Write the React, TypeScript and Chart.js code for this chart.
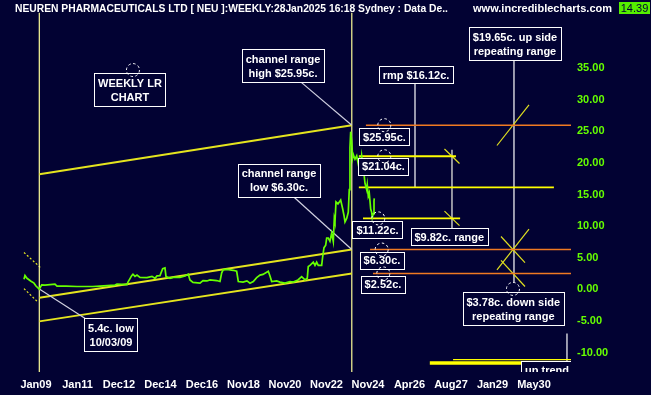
import React, { useEffect, useRef } from "react";
import { Chart, registerables } from "chart.js";

Chart.register(...registerables);

// ---------- data ----------
const xTickLabels = ["Jan09", "Jan11", "Dec12", "Dec14", "Dec16", "Nov18", "Nov20", "Nov22", "Nov24", "Apr26", "Aug27", "Jan29", "May30"];
const yTickValues = [-10, -5, 0, 5, 10, 15, 20, 25, 30, 35];
const X_MIN = -0.867;
const X_MAX = 12.892;
const Y_MIN = -13.05;
const Y_MAX = 43.74;

// weekly close, x in axis-label units (0 = Jan09 label, 1 = Jan11 label, ...)
const priceX = [
  -0.289, -0.265, -0.217, -0.12, -0.048, 0.0, 0.08, 0.137, 0.217, 0.458, 0.506, 0.723, 0.988, 1.373, 1.542, 1.904,
  1.952, 2.193, 2.217, 2.306, 2.337, 2.386, 2.434, 2.506, 2.675, 2.795, 2.867, 2.916, 2.988, 3.053, 3.108, 3.133,
  3.229, 3.301, 3.47, 3.59, 3.67, 3.711, 3.783, 3.952, 4.024, 4.12, 4.193, 4.354, 4.434, 4.475, 4.513, 4.602,
  4.754, 4.836, 4.875, 4.988, 5.084, 5.157, 5.236, 5.318, 5.398, 5.47, 5.598, 5.639, 5.68, 5.8, 5.88, 6.0,
  6.12, 6.2, 6.313, 6.402, 6.482, 6.537, 6.561, 6.602, 6.682, 6.723, 6.763, 6.802, 6.884, 6.908, 6.94, 6.981,
  7.005, 7.043, 7.084, 7.125, 7.164, 7.188, 7.205, 7.229, 7.277, 7.342, 7.39, 7.422, 7.446, 7.487, 7.525, 7.549,
  7.566, 7.583, 7.607, 7.631, 7.646, 7.687, 7.728, 7.766, 7.79, 7.824, 7.848, 7.872, 7.904, 7.928, 7.969, 7.983,
  8.007, 8.031, 8.065, 8.089, 8.104, 8.128, 8.145, 8.152,
];
const priceY = [
  1.6, 2.21, 1.76, 1.3, 0.99, 0.53, 0.054, 0.73, 0.69, 0.84, 0.53, 0.53, 0.46, 0.46, 0.53, 0.69,
  0.84, 0.76, 1.15, 2.17, 2.41, 2.06, 2.26, 1.91, 1.86, 2.06, 1.76, 2.14, 2.17, 3.28, 3.39, 2.02,
  1.76, 1.91, 1.91, 2.11, 2.41, 1.5, 1.1, 0.99, 1.4, 1.34, 1.5, 1.4, 1.25, 2.63, 3.13, 3.18,
  3.02, 2.87, 1.25, 1.15, 1.34, 0.99, 1.25, 1.86, 2.26, 2.37, 2.87, 2.11, 1.25, 1.34, 1.15, 0.99,
  1.25, 1.15, 1.5, 2.02, 1.5, 1.76, 3.63, 3.79, 4.31, 3.79, 4.31, 3.79, 3.79, 5.16, 6.6, 6.99,
  8.12, 8.12, 7.6, 8.89, 7.56, 11.18, 10.66, 13.82, 13.51, 14.12, 12.75, 11.68, 10.66, 11.22, 12.18, 15.76,
  22.37, 24.92, 23.44, 20.84, 21.34, 20.58, 21.1, 19.82, 20.58, 19.57, 21.1, 19.82, 18.29, 16.76, 15.76, 16.52,
  14.73, 15.24, 12.7, 12.18, 11.37, 11.94, 13.97, 14.39,
];

// linear-regression channel
const lrX = [0.08, 7.61];
const channelHighY = [18.2, 25.95];
const channelLowY = [-1.3, 6.3];
const channelBaseY = [-5.05, 2.52];

// support / resistance levels (run to the right edge)
const supportLevels = [25.95, 6.3, 2.52];
const supportStartX = [7.95, 8.05, 8.12];

// recent range levels
const rangeLevels = [21.04, 16.12, 11.22];
const rangeStartX = [7.78, 7.78, 7.88];
const rangeEndX = [10.12, 12.48, 10.22];

// trend lines at the bottom right
const trendLevels = [-11.11, -11.63];
const trendStartX = [10.05, 9.49];

// small range tick marks [x1, y1, x2, y2]
const rangeTicks = [
  [11.108, 22.74, 11.88, 29.16],
  [11.108, 3.09, 11.88, 9.51],
  [11.205, 8.36, 11.783, 4.24],
  [11.205, 4.58, 11.783, 0.46],
  [9.843, 22.19, 10.205, 19.89],
  [9.843, 12.37, 10.205, 10.07],
];
const startTicks = [
  [-0.289, 5.83, 0.137, 3.28],
  [-0.289, 0.12, 0.055, -2.06],
];
// leader lines [x1, y1, x2, y2]
const leaderLines = [
  [6.386, 32.75, 7.61, 25.95],
  [6.193, 14.73, 7.61, 6.3],
  [0.08, 0.054, 1.205, -4.66],
];
const whiteVerticals = [
  [9.133, 32.52, 9.133, 16.12],
  [11.518, 36.26, 11.518, 1.15],
  [12.795, -6.95, 12.795, -11.53],
];
const rangeBar = [10.024, 22.06, 10.024, 9.65];

// text boxes
const labelTexts = [
  ["WEEKLY LR", "CHART"],
  ["channel range", "high $25.95c."],
  ["rmp $16.12c."],
  ["$19.65c. up side", "repeating range"],
  ["channel range", "low $6.30c."],
  ["$25.95c."],
  ["$21.04c."],
  ["$11.22c."],
  ["$6.30c."],
  ["$2.52c."],
  ["$9.82c. range"],
  ["5.4c. low", "10/03/09"],
  ["$3.78c. down side", "repeating range"],
  ["up trend"],
];
const labelX = [2.265, 5.952, 9.157, 11.542, 5.855, 8.398, 8.373, 8.229, 8.337, 8.361, 9.959, 1.807, 11.501, 12.313];
const labelY = [31.53, 35.34, 33.89, 38.78, 17.25, 24.12, 19.47, 9.39, 4.58, 0.84, 8.32, -7.18, -3.05, -12.71];

// dashed marker circles
const circleX = [2.337, 8.393, 8.393, 8.248, 8.33, 8.369, 11.494];
const circleY = [34.66, 25.95, 21.04, 11.22, 6.3, 2.52, 0.08];

const titleText = "NEUREN PHARMACEUTICALS LTD [ NEU ]:WEEKLY:28Jan2025 16:18 Sydney : Data De..";
const siteText = "www.incrediblecharts.com";
const lastPriceText = "14.39";

// ---------- styles ----------
const BG = "#020233";
const FONT = '"Liberation Sans", Arial, sans-serif';

function seg(points: { x: number; y: number }[], color: string, width: number, order: number, dash: number[] = []) {
  return {
    type: "line" as const,
    data: points,
    borderColor: color,
    borderWidth: width,
    borderDash: dash,
    pointRadius: 0,
    pointHoverRadius: 0,
    fill: false,
    tension: 0,
    order,
  };
}

const pt = (x: number, y: number) => ({ x, y });

function buildDatasets() {
  const ds: any[] = [];
  // price
  ds.push(seg(priceX.map((x, i) => pt(x, priceY[i])), "#66ff00", 1.7, 0));
  // channel
  [channelHighY, channelLowY, channelBaseY].forEach((ys) =>
    ds.push(seg([pt(lrX[0], ys[0]), pt(lrX[1], ys[1])], "#e4e41e", 2, 2))
  );
  // LR start / end verticals
  lrX.forEach((x) => ds.push(seg([pt(x, Y_MAX), pt(x, Y_MIN)], "#ffff99", 1.2, 3)));
  // supports
  supportLevels.forEach((lv, i) => ds.push(seg([pt(supportStartX[i], lv), pt(X_MAX, lv)], "#f07a22", 1.5, 4)));
  // range levels
  rangeLevels.forEach((lv, i) => ds.push(seg([pt(rangeStartX[i], lv), pt(rangeEndX[i], lv)], "#ffff00", 1.8, 4)));
  // trends bottom
  ds.push(seg([pt(trendStartX[0], trendLevels[0]), pt(X_MAX, trendLevels[0])], "#ffff00", 1.2, 4));
  ds.push(seg([pt(trendStartX[1], trendLevels[1]), pt(X_MAX, trendLevels[1])], "#ffff00", 3.5, 4));
  // tick marks
  rangeTicks.forEach((t) => ds.push(seg([pt(t[0], t[1]), pt(t[2], t[3])], "#e0e020", 1.2, 5)));
  startTicks.forEach((t) => ds.push(seg([pt(t[0], t[1]), pt(t[2], t[3])], "#e8e820", 1.2, 5, [2, 2])));
  // leaders
  leaderLines.forEach((t) => ds.push(seg([pt(t[0], t[1]), pt(t[2], t[3])], "#d0d0e0", 1.2, 1)));
  whiteVerticals.forEach((t) => ds.push(seg([pt(t[0], t[1]), pt(t[2], t[3])], "#ffffff", 1.2, 5)));
  ds.push(seg([pt(rangeBar[0], rangeBar[1]), pt(rangeBar[2], rangeBar[3])], "#c4c4c4", 1.5, 5));
  return ds;
}

const decorPlugin = {
  id: "decor",
  beforeDraw(chart: any) {
    const { ctx, width, height } = chart;
    ctx.save();
    ctx.fillStyle = BG;
    ctx.fillRect(0, 0, width, height);
    ctx.restore();
  },
  afterDatasetsDraw(chart: any) {
    const { ctx, chartArea } = chart;
    const xs = chart.scales.x;
    const ys = chart.scales.y;
    ctx.save();
    ctx.beginPath();
    ctx.rect(chartArea.left, chartArea.top, chartArea.right - chartArea.left, chartArea.bottom - chartArea.top);
    ctx.clip();
    ctx.font = `bold 11px ${FONT}`;
    ctx.textAlign = "center";
    ctx.textBaseline = "middle";
    labelTexts.forEach((lines, i) => {
      const cx = xs.getPixelForValue(labelX[i]);
      const cy = ys.getPixelForValue(labelY[i]);
      const w = Math.ceil(Math.max(...lines.map((l) => ctx.measureText(l).width))) + 7;
      const h = lines.length === 1 ? 17 : 33;
      const left = Math.round(cx - w / 2) + 0.5;
      const top = Math.round(cy - h / 2) + 0.5;
      ctx.fillStyle = BG;
      ctx.fillRect(left, top, w, h);
      ctx.strokeStyle = "#ffffff";
      ctx.lineWidth = 1;
      ctx.setLineDash([]);
      ctx.strokeRect(left, top, w, h);
      ctx.fillStyle = "#ffffff";
      lines.forEach((ln, j) => {
        ctx.fillText(ln, cx, cy + (j - (lines.length - 1) / 2) * 14.3 + 1);
      });
    });
    ctx.strokeStyle = "#ffffff";
    ctx.lineWidth = 1;
    ctx.setLineDash([2.5, 2.5]);
    circleX.forEach((cxv, i) => {
      ctx.beginPath();
      ctx.arc(xs.getPixelForValue(cxv), ys.getPixelForValue(circleY[i]), 6.5, 0, Math.PI * 2);
      ctx.stroke();
    });
    ctx.restore();
  },
  afterDraw(chart: any) {
    const { ctx } = chart;
    ctx.save();
    ctx.fillStyle = "#ffffff";
    ctx.textBaseline = "alphabetic";
    ctx.textAlign = "left";
    ctx.font = `bold 10.3px ${FONT}`;
    ctx.fillText(titleText, 15, 12);
    ctx.textAlign = "right";
    ctx.font = `bold 11px ${FONT}`;
    ctx.fillText(siteText, 612, 12);
    ctx.fillStyle = "#55ee00";
    ctx.fillRect(619, 2, 31, 12);
    ctx.fillStyle = "#000033";
    ctx.textAlign = "center";
    ctx.font = `11px ${FONT}`;
    ctx.fillText(lastPriceText, 634.5, 12);
    ctx.restore();
  },
};

export default function App() {
  const canvasRef = useRef<HTMLCanvasElement | null>(null);

  useEffect(() => {
    document.body.style.margin = "0";
    document.body.style.background = BG;
    const canvas = canvasRef.current;
    if (!canvas) return;
    const chart = new Chart(canvas, {
      type: "line",
      data: { datasets: buildDatasets() },
      options: {
        animation: false,
        responsive: false,
        devicePixelRatio: 1,
        events: [],
        layout: { padding: 0 },
        plugins: { legend: { display: false }, tooltip: { enabled: false }, title: { display: false } },
        scales: {
          x: {
            type: "linear",
            min: X_MIN,
            max: X_MAX,
            grid: { display: false, drawTicks: false },
            border: { display: false },
            afterBuildTicks: (scale: any) => {
              scale.ticks = xTickLabels.map((_, i) => ({ value: i }));
            },
            afterFit: (scale: any) => {
              scale.height = 23;
            },
            ticks: {
              color: "#ffffff",
              font: { family: FONT, weight: "bold", size: 11 },
              padding: 6,
              maxRotation: 0,
              autoSkip: false,
              callback: (_v: any, index: number) => xTickLabels[index] ?? "",
            },
          },
          y: {
            type: "linear",
            position: "right",
            min: Y_MIN,
            max: Y_MAX,
            grid: { display: false, drawTicks: false },
            border: { display: false },
            afterBuildTicks: (scale: any) => {
              scale.ticks = yTickValues.map((v) => ({ value: v }));
            },
            afterFit: (scale: any) => {
              scale.width = 80;
            },
            ticks: {
              color: "#66ff00",
              font: { family: FONT, weight: "bold", size: 11 },
              padding: 6,
              callback: (v: any) => Number(v).toFixed(2),
            },
          },
        },
      } as any,
      plugins: [decorPlugin],
    });
    return () => chart.destroy();
  }, []);

  return (
    <div style={{ width: 651, height: 395 }}>
      <canvas ref={canvasRef} width={651} height={395} style={{ display: "block" }} />
    </div>
  );
}
